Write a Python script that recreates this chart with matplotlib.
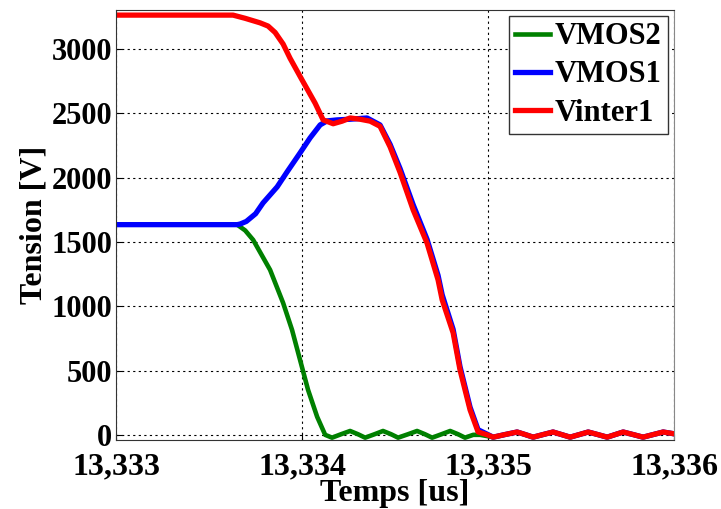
import matplotlib
matplotlib.use("Agg")
import matplotlib.pyplot as plt
from matplotlib.ticker import FuncFormatter

# ---- data (time in us, voltage in V) ----
t_vmos2 = [13.33300, 13.333651, 13.333694, 13.333737, 13.333828, 13.333898,
           13.333946, 13.333989, 13.334032, 13.334081, 13.334124, 13.334161,
           13.334210, 13.334258, 13.334300, 13.334339, 13.334390, 13.334435,
           13.334478, 13.334516, 13.334570, 13.334618, 13.334660, 13.334699,
           13.334750, 13.334796, 13.334838, 13.334876, 13.334920, 13.334957,
           13.335027, 13.335156, 13.335242, 13.335349, 13.335441, 13.335538,
           13.335640, 13.335726, 13.335833, 13.335941, 13.336000]
v_vmos2 = [1635, 1635, 1590, 1516, 1283, 1026,
           816, 583, 350, 140, 0, -22,
           5, 30, 5, -22, 5, 30,
           5, -22, 5, 30, 5, -22,
           5, 30, 5, -22, 0, 0,
           -18, 22, -18, 22, -18, 22,
           -18, 22, -18, 22, 8]

t_vmos1 = [13.33300, 13.333651, 13.333667, 13.333700, 13.333750, 13.333790,
           13.333866, 13.333919, 13.333989, 13.334043, 13.334097, 13.334134,
           13.334188, 13.334258, 13.334349, 13.334419, 13.334473, 13.334527,
           13.334597, 13.334672, 13.334731, 13.334753, 13.334812, 13.334849,
           13.334903, 13.334946, 13.334995, 13.335027, 13.335090, 13.335156,
           13.335200, 13.335242, 13.335295, 13.335349, 13.335395, 13.335441,
           13.335490, 13.335538, 13.335590, 13.335640, 13.335683, 13.335726,
           13.335780, 13.335833, 13.335887, 13.335941, 13.336000]
v_vmos1 = [1635, 1635, 1640, 1660, 1720, 1804,
           1929, 2045, 2193, 2310, 2411, 2442,
           2450, 2455, 2465, 2411, 2260, 2070,
           1790, 1520, 1240, 1090, 820, 530,
           215, 40, 5, -18, 2, 22,
           2, -18, 2, 22, 2, -18,
           2, 22, 2, -18, 2, 22,
           2, -18, 2, 22, 8]

t_vinter1 = [13.33300, 13.333629, 13.333694, 13.333774, 13.333817, 13.333855,
             13.333898, 13.333935, 13.334000, 13.334070, 13.334113, 13.334167,
             13.334215, 13.334258, 13.334312, 13.334366, 13.334419, 13.334473,
             13.334527, 13.334597, 13.334672, 13.334731, 13.334753, 13.334812,
             13.334849, 13.334903, 13.334946, 13.334995, 13.335027, 13.335090,
             13.335156, 13.335200, 13.335242, 13.335295, 13.335349, 13.335395,
             13.335441, 13.335490, 13.335538, 13.335590, 13.335640, 13.335683,
             13.335726, 13.335780, 13.335833, 13.335887, 13.335941, 13.336000]
v_vinter1 = [3265, 3265, 3240, 3205, 3180, 3130,
             3040, 2930, 2760, 2580, 2450, 2420,
             2440, 2465, 2455, 2440, 2400, 2240,
             2040, 1750, 1490, 1205, 1050, 793,
             505, 194, 23, 0, -18, 2,
             22, 2, -18, 2, 22, 2,
             -18, 2, 22, 2, -18, 2,
             22, 2, -18, 2, 22, 8]

x_ticks = [13.333, 13.334, 13.335, 13.336]
y_ticks = [0, 500, 1000, 1500, 2000, 2500, 3000]

plt.rcParams["font.family"] = ["Liberation Serif", "DejaVu Serif"]
plt.rcParams["font.weight"] = "bold"

fig = plt.figure(figsize=(7.21, 5.09), dpi=100)
ax = fig.add_axes([0.161, 0.1356, 0.774, 0.8448])

ax.plot(t_vmos2, v_vmos2, color="#008000", lw=3.3, label="VMOS2")
ax.plot(t_vmos1, v_vmos1, color="#0000ff", lw=3.8, label="VMOS1")
ax.plot(t_vinter1, v_vinter1, color="#ff0000", lw=3.8, label="Vinter1")

ax.set_xlim(13.333, 13.336)
ax.set_ylim(-40, 3305)
ax.set_xticks(x_ticks)
ax.set_yticks(y_ticks)
ax.xaxis.set_major_formatter(FuncFormatter(lambda v, p: f"{v:.3f}".replace(".", ",")))
ax.tick_params(direction="in", labelsize=23, length=4)
ax.tick_params(axis="x", pad=9)
ax.tick_params(axis="y", pad=3, labelsize=22)
for lab in ax.get_xticklabels() + ax.get_yticklabels():
    lab.set_fontweight("bold")

ax.grid(True, color="black", linestyle=(0, (2, 3)), linewidth=0.8)
for s in ax.spines.values():
    s.set_color("#333333")
ax.spines["right"].set_color("#888888")

ax.set_xlabel("Temps [us]", fontsize=23, fontweight="bold", labelpad=-2)
ax.set_ylabel("Tension [V]", fontsize=23, fontweight="bold", labelpad=2)

leg = ax.legend(loc="upper right", handlelength=1.15,
                handletextpad=0.15, labelspacing=0.3, borderpad=0.2,
                borderaxespad=0.2, fancybox=False, framealpha=1,
                edgecolor="#333333", prop={"weight": "bold", "size": 22})
leg.get_frame().set_linewidth(1.0)

fig.savefig("out.png", dpi=100)
